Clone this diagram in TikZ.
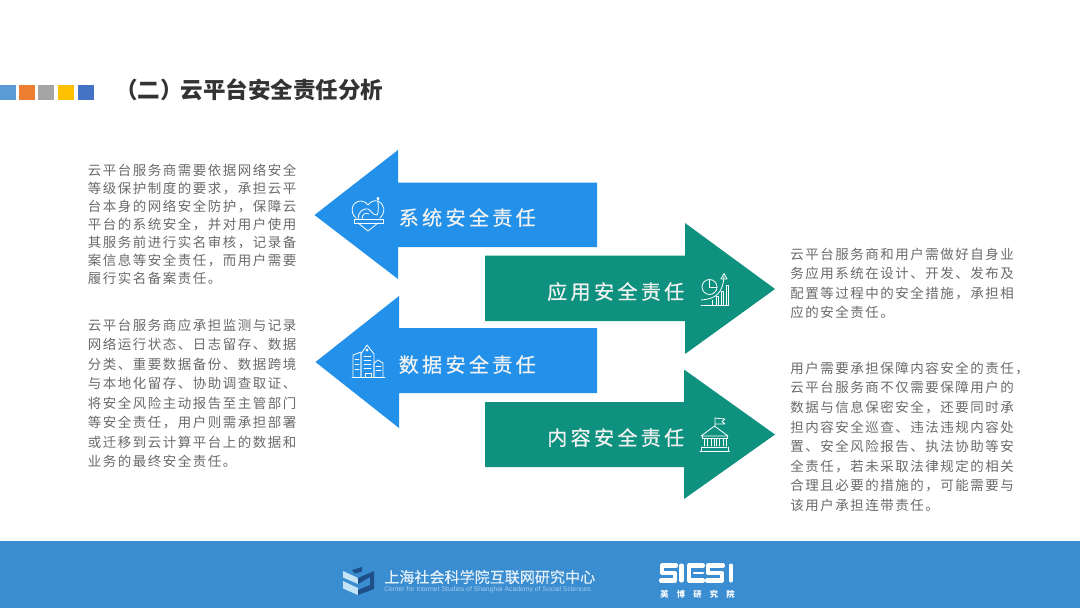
\documentclass[tikz,border=0pt]{standalone}
\usepackage{fontspec}
\setmainfont{Noto Sans CJK SC}
\newfontfamily\bodyfont[LetterSpace=11.5]{Noto Sans CJK SC}
\newfontfamily\labelfont[LetterSpace=17,FakeBold=0.5]{Noto Sans CJK SC}
\newfontfamily\footfont[FakeBold=0.3]{Noto Sans CJK SC}
\newfontfamily\smallcn[LetterSpace=100]{Noto Sans CJK SC}
\newfontfamily\latinfoot{Liberation Sans}
\definecolor{bluearrow}{HTML}{2391EA}
\definecolor{greenarrow}{HTML}{0E917E}
\definecolor{bandblue}{HTML}{3A8DD0}
\definecolor{bodygray}{HTML}{6A6A6A}
\definecolor{titleink}{HTML}{333333}
\definecolor{navy}{HTML}{1E4F88}
\definecolor{palecube}{HTML}{C5E3F6}
\tikzset{
  x=0.75pt,y=-0.75pt,
  bodytext/.style={anchor=north west,inner sep=0pt,align=left,text=bodygray},
  arrowlabel/.style={anchor=west,inner sep=0pt,text=white!95!black,font=\labelfont\fontsize{15pt}{17pt}\selectfont},
  iconline/.style={draw=white,line width=0.6pt,line join=round,line cap=round,fill=none},
  logostroke/.style={draw=white,line width=3.1pt,line cap=round,line join=round},
}
\begin{document}
\begin{tikzpicture}
\useasboundingbox (0,0) rectangle (1080,608);
\fill[white] (0,0) rectangle (1080,608);
% title squares
\fill[fill={rgb,255:red,91;green,155;blue,213}] (0,85) rectangle (16,100);
\fill[fill={rgb,255:red,237;green,125;blue,49}] (19,85) rectangle (35,100);
\fill[fill={rgb,255:red,165;green,165;blue,165}] (38,85) rectangle (54,100);
\fill[fill={rgb,255:red,255;green,192;blue,0}] (58,85) rectangle (74,100);
\fill[fill={rgb,255:red,68;green,114;blue,196}] (78,85) rectangle (94,100);
\node[anchor=west,inner sep=0pt,text=titleink,font=\fontsize{16.9pt}{20pt}\selectfont\bfseries] (title) at (115,90) {（二）\kern-1.7pt 云平台安全责任分析};
% arrows
\fill[bluearrow] (314.5,215) -- (398,150) -- (398,182.5) -- (597,182.5) -- (597,247) -- (398,247) -- (398,279) -- cycle;
\fill[bluearrow] (315.5,362) -- (399,296) -- (399,328) -- (597,328) -- (597,393) -- (399,393) -- (399,428) -- cycle;
\fill[greenarrow] (775,289) -- (685,223) -- (685,255.5) -- (485,255.5) -- (485,321) -- (685,321) -- (685,354) -- cycle;
\fill[greenarrow] (775,434.5) -- (684,369.5) -- (684,402) -- (485,402) -- (485,467) -- (684,467) -- (684,499) -- cycle;
% arrow labels
\node[arrowlabel] (sys) at (398.5,217.5) {系统安全责任};
\node[arrowlabel] (app) at (547,291.5) {应用安全责任};
\node[arrowlabel] (dat) at (398.5,364.5) {数据安全责任};
\node[arrowlabel] (con) at (547,437.5) {内容安全责任};
% system icon: heart and scroll
\draw[iconline] (368,231) -- (358,223) (368,231) -- (378,223);
\draw[iconline] (356,218) .. controls (349,212) and (352,201) .. (361,201) .. controls (364,201) and (367,203) .. (368,205) .. controls (370,202) and (374,200) .. (377,201) .. controls (385,203) and (386,212) .. (380,218);
\draw[iconline] (354,219) -- (383,219) -- (383,223) -- (354,223) -- cycle;
\draw[iconline] (358,219) .. controls (358,212) and (363,208) .. (368,209) .. controls (371,210) and (372,215) .. (377,215) .. controls (379,213) and (378,205) .. (378,200);
\draw[iconline] (378,198.5) circle[radius=1.2];
\draw[iconline] (362,219) .. controls (362,214) and (366,212) .. (369,214);
% data icon: buildings
\draw[iconline] (352,377) -- (385,377);
\draw[iconline] (353,377) -- (353,355) -- (361,352) -- (361,377);
\draw[iconline] (361,377) -- (361,354) -- (367,345) -- (374,354) -- (374,377);
\draw[iconline] (374,377) -- (374,363) -- (378,360) -- (383,363) -- (383,377);
\draw[iconline] (364,356) -- (371,356) (364,360) -- (371,360) (364,364) -- (371,364) (364,368) -- (371,368);
\draw[iconline] (355,359) -- (359,359) (355,364) -- (359,364) (355,369) -- (359,369);
\draw[iconline] (376,366) -- (381,366) (376,370) -- (381,370);
\draw[iconline] (365,377) -- (365,373) -- (371,373) -- (371,377);
\draw[iconline] (367,350) circle[radius=1];
% app icon: pie and rising chart
\draw[iconline] (709.5,287) circle[radius=7.5];
\draw[iconline] (709.5,279.5) -- (709.5,287) -- (717,287);
\draw[iconline] (701,305) -- (729,305);
\draw[iconline] (701,300) .. controls (716,299) and (723,293) .. (724,276);
\draw[iconline] (721,279) -- (724,273.5) -- (727,279) -- cycle;
\draw[iconline] (712,305) -- (712,300) (716,305) -- (716,296) -- (718,296) -- (718,305) (721,305) -- (721,291) -- (723,291) -- (723,305) (726,305) -- (726,285) -- (728,285) -- (728,305);
% bank icon
\draw[iconline] (715,426) -- (715,418) -- (725,419) -- (722,421.5) -- (725,424) -- (715,424);
\draw[iconline] (714.5,426) -- (701,436) -- (728,436) -- cycle;
\draw[iconline] (702,436) -- (702,438.5) -- (727,438.5) -- (727,436);
\draw[iconline] (704,439) -- (704,446) (707,439) -- (707,446) (711,439) -- (711,446) (714,439) -- (714,446) (716,439) -- (716,446) (719,439) -- (719,446) (723,439) -- (723,446) (726,439) -- (726,446);
\draw[iconline] (702,447) -- (727,447) (700,451) -- (729.5,451) (701,447) -- (701,451) (728,447) -- (728,451);
% body text
\node[bodytext,font=\bodyfont\fontsize{10.1pt}{13.5pt}\selectfont] (t1) at (87.5,163.5) {云平台服务商需要依据网络安全\\等级保护制度的要求，承担云平\\台本身的网络安全防护，保障云\\平台的系统安全，并对用户使用\\其服务前进行实名审核，记录备\\案信息等安全责任，而用户需要\\履行实名备案责任。};
\node[bodytext,font=\bodyfont\fontsize{10.1pt}{14.6pt}\selectfont] (t2) at (87.5,318.5) {云平台服务商应承担监测与记录\\网络运行状态、日志留存、数据\\分类、重要数据备份、数据跨境\\与本地化留存、协助调查取证、\\将安全风险主动报告至主管部门\\等安全责任，用户则需承担部署\\或迁移到云计算平台上的数据和\\业务的最终安全责任。};
\node[bodytext,font=\bodyfont\fontsize{10.1pt}{14.7pt}\selectfont] (t3) at (790,247.5) {云平台服务商和用户需做好自身业\\务应用系统在设计、开发、发布及\\配置等过程中的安全措施，承担相\\应的安全责任。};
\node[bodytext,font=\bodyfont\fontsize{10.1pt}{14.7pt}\selectfont] (t4) at (790,361.5) {用户需要承担保障内容安全的责任，\\云平台服务商不仅需要保障用户的\\数据与信息保密安全，还要同时承\\担内容安全巡查、违法违规内容处\\置、安全风险报告、执法协助等安\\全责任，若未采取法律规定的相关\\合理且必要的措施的，可能需要与\\该用户承担连带责任。};
% footer
\fill[bandblue] (0,541) rectangle (1080,608);
\fill[navy] (352,570) -- (362,567) -- (362,571.5) -- (355,573.5) -- cycle;
\fill[palecube] (343,571) -- (358,578) -- (358,584) -- (343,577.5) -- cycle;
\fill[palecube] (343,581) -- (358,588) -- (358,595) -- (343,588.5) -- cycle;
\fill[navy] (358,578) -- (374,571) -- (374,589) -- (358,595) -- (358,590) -- (370,585) -- (370,577) -- (358,584) -- cycle;
\node[anchor=west,inner sep=0pt,text=white!88!bandblue,font=\footfont\fontsize{11.3pt}{13pt}\selectfont] (org) at (384,577) {上海社会科学院互联网研究中心};
\node[anchor=west,inner sep=0pt,text=white!55!bandblue,font=\latinfoot\fontsize{5.12pt}{7pt}\selectfont] (orgen) at (384,589.5) {Center for Internet Studies of Shanghai Academy of Social Sciences};
% SICSI logo
\draw[logostroke] (676,565.5) -- (662,565.5) -- (662,573) -- (675,573) -- (675,580.5) -- (661,580.5);
\draw[logostroke] (681.5,565.5) -- (681.5,580.5);
\draw[logostroke] (703,565.5) -- (689,565.5) -- (689,580.5) -- (703,580.5);
\draw[logostroke,line width=2pt] (694,573) -- (703,573);
\draw[logostroke] (723,565.5) -- (708,565.5) -- (708,573) -- (722,573) -- (722,580.5) -- (707,580.5);
\draw[logostroke] (731,565.5) -- (731,580.5);
\node[anchor=west,inner sep=0pt,text=white,font=\smallcn\fontsize{6.2pt}{8pt}\selectfont\bfseries] (orgcn) at (660,594.5) {英博研究院};
\end{tikzpicture}
\end{document}
